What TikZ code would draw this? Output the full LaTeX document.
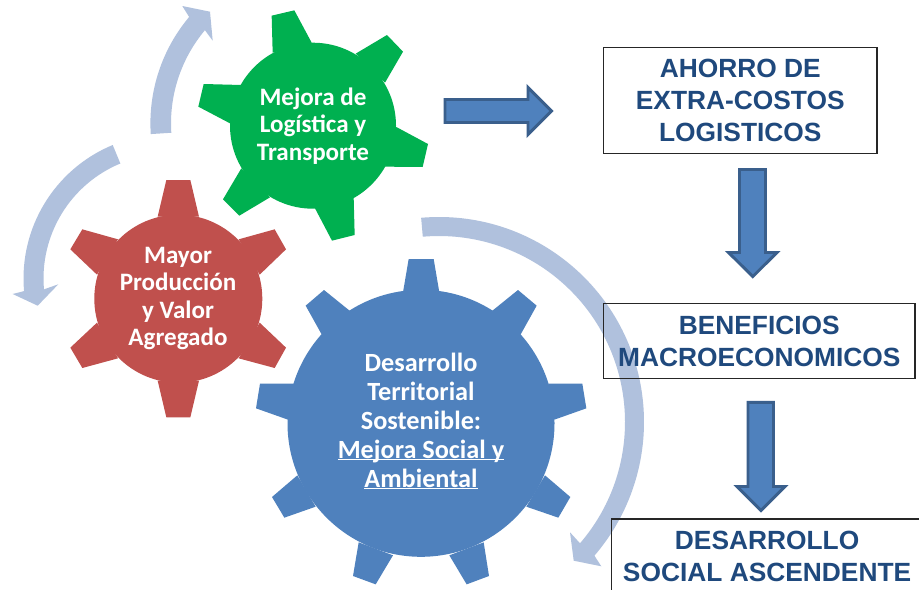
\documentclass[tikz,border=0pt]{standalone}
\usepackage{fontspec}
\newfontfamily\gearfont{Carlito}
\newfontfamily\boxfont{Liberation Sans}
\definecolor{gearblue}{HTML}{4F81BD}
\definecolor{gearred}{HTML}{C0504D}
\definecolor{geargreen}{HTML}{00B050}
\definecolor{ringblue}{HTML}{B0C1DD}
\definecolor{arrowedge}{HTML}{3A5F8C}
\definecolor{boxtext}{HTML}{1F497D}
\newcommand{\ulword}[1]{\setbox0\hbox{#1}\rlap{\rule[-1.8pt]{\wd0}{1.2pt}}\box0}
\tikzset{
  ring/.style={fill=ringblue,draw=none},
  blockarrow/.style={fill=gearblue,draw=arrowedge,line width=2.2pt,line join=miter},
  smallgearlabel/.style={text=white,align=center,inner sep=0pt,font=\gearfont\bfseries\fontsize{18.8}{20.5}\selectfont},
  biggearlabel/.style={text=white,align=center,inner sep=0pt,font=\gearfont\bfseries\fontsize{19.7}{21.75}\selectfont},
  textbox/.style={draw=black!85,line width=.9pt,inner sep=0pt,anchor=north west,align=center,text=boxtext,
    font=\boxfont\bfseries\fontsize{19.75}{24}\selectfont}
}
\begin{document}
\begin{tikzpicture}[x=.75pt,y=-.75pt]
\clip (0,0) rectangle (919,589);
\fill[white] (0,0) rectangle (919,589);
% circular arrows
\fill[ring] ([shift={(439,422)}]-95:205) arc[start angle=-95,end angle=40.7,radius=205]
  -- (601.3,566.3) -- (573.7,560.7) -- (570,532.3)
  -- ([shift={(439,422)}]40.7:186) arc[start angle=40.7,end angle=-95,radius=186] -- cycle;
\fill[ring] ([shift={(316,123.4)}]176.3:165.6) arc[start angle=176.3,end angle=220,radius=165.6]
  -- (182.3,6) -- (210,11.7) -- (212.7,40.7)
  -- ([shift={(316,123.4)}]220:145) arc[start angle=220,end angle=176.3,radius=145] -- cycle;
\fill[ring] ([shift={(168,278.5)}]247.5:144.5) arc[start angle=247.5,end angle=175,radius=144.5]
  -- (12.7,294) -- (37.7,305.7) -- (58.3,284.3)
  -- ([shift={(168,278.5)}]175:124.5) arc[start angle=175,end angle=247.5,radius=124.5] -- cycle;
% blue gear
\fill[gearblue] (421,423.3) circle (133.5);
\begin{scope}[shift={(240,210)},scale=1/3]
\fill[gearblue]
 (489,247)--(506,147)--(581,147)--(598,247)--cycle
 (756,303)--(834,240)--(890,287)--(841,375)--cycle
 (925,521)--(1027,521)--(1039,595)--(943,629)--cycle
 (915,796)--(991,861)--(955,923)--(859,890)--cycle
 (731,997)--(747,1098)--(680,1123)--(628,1036)--cycle
 (459,1036)--(407,1123)--(339,1098)--(356,997)--cycle
 (227,890)--(133,923)--(96,861)--(172,796)--cycle
 (144,629)--(48,595)--(60,521)--(163,521)--cycle
 (246,375)--(197,287)--(252,240)--(330,303)--cycle;
\end{scope}
% red gear
\fill[gearred] (178.3,298.7) circle (84);
\begin{scope}[scale=1/3]
\fill[gearred]
 (473,650)--(499,540)--(571,540)--(597,650)--cycle
 (716,718)--(824,688)--(858,748)--(779,824)--cycle
 (779,968)--(858,1043)--(824,1104)--(716,1075)--cycle
 (597,1142)--(571,1252)--(499,1252)--(473,1142)--cycle
 (354,1075)--(247,1104)--(211,1043)--(291,968)--cycle
 (291,824)--(211,748)--(247,688)--(354,718)--cycle;
% green gear
\fill[geargreen]
 (818,158)--(815,47)--(883,31)--(935,128)--cycle
 (1067,161)--(1161,105)--(1209,155)--(1155,248)--cycle
 (1189,381)--(1284,432)--(1268,501)--(1155,500)--cycle
 (1061,592)--(1064,705)--(996,722)--(945,625)--cycle
 (810,592)--(718,647)--(669,598)--(724,505)--cycle
 (690,370)--(595,320)--(611,252)--(724,255)--cycle;
\end{scope}
\fill[geargreen] (313,125.7) circle (83);
% gear labels
\node[smallgearlabel] (green) at (313,126) {Mejora de\\Logística y\\Transporte};
\node[smallgearlabel] (red) at (178,298.5) {Mayor\\Producción\\y Valor\\Agregado};
\node[biggearlabel] (blue) at (421,421) {Desarrollo\\Territorial\\Sostenible:\\\ulword{Mejora Social y}\\\ulword{Ambiental}};
% boxes
\node[textbox,minimum width=205pt,minimum height=79.5pt] (ahorro) at (603,47) {AHORRO DE\\EXTRA-COSTOS\\LOGISTICOS};
\node[textbox,minimum width=233.5pt,minimum height=56.25pt] (beneficios) at (603,303) {BENEFICIOS\\MACROECONOMICOS};
\node[textbox,minimum width=234pt,minimum height=56.25pt] (desarrollo) at (610.5,518.4) {DESARROLLO\\SOCIAL ASCENDENTE};
% block arrows
\draw[blockarrow] (445,99.5) -- (528,99.5) -- (528,87.5) -- (551.5,111) -- (528,134.5) -- (528,122.5) -- (445,122.5) -- cycle;
\draw[blockarrow] (739.5,169.5) -- (765.5,169.5) -- (765.5,252.5) -- (777,252.5) -- (752.8,276.5) -- (728.5,252.5) -- (739.5,252.5) -- cycle;
\draw[blockarrow] (748,402.3) -- (773.5,402.3) -- (773.5,486.5) -- (785,486.5) -- (761,510.5) -- (737,486.5) -- (748,486.5) -- cycle;
\end{tikzpicture}
\end{document}
